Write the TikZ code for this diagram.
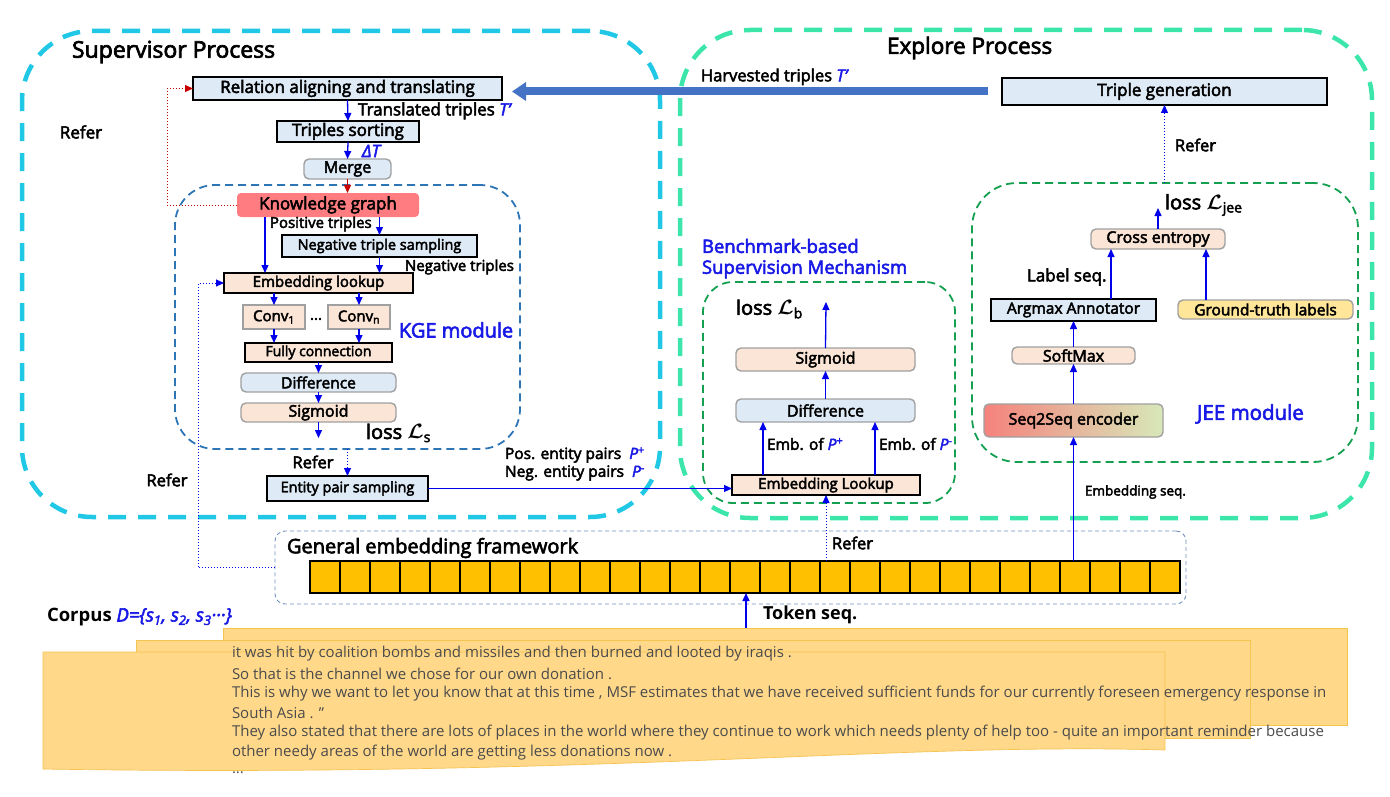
\documentclass[tikz,border=0pt]{standalone}
\usepackage{fontspec}
\setmainfont{Open Sans}
\newfontfamily\med{Open Sans}[FakeBold=3]
\usetikzlibrary{arrows.meta,calc}
\definecolor{cyanc}{RGB}{32,200,230}
\definecolor{aquac}{RGB}{60,230,170}
\definecolor{kgeb}{RGB}{46,117,182}
\definecolor{greenc}{RGB}{20,160,80}
\definecolor{gefc}{RGB}{110,145,190}
\definecolor{lblue}{RGB}{222,235,247}
\definecolor{peach}{RGB}{251,229,214}
\definecolor{yel}{RGB}{255,230,153}
\definecolor{kgred}{RGB}{255,124,128}
\definecolor{bgray}{RGB}{160,160,160}
\definecolor{ablue}{RGB}{0,0,235}
\definecolor{tblue}{RGB}{25,25,230}
\definecolor{bigb}{RGB}{68,114,196}
\definecolor{tokc}{RGB}{255,192,0}
\definecolor{paperc}{RGB}{255,216,138}
\definecolor{paperedge}{RGB}{245,195,80}
\definecolor{redc}{RGB}{200,0,0}
\definecolor{corpusgray}{RGB}{75,75,75}
\newcommand\fsz[1]{\fontsize{#1}{#1}\selectfont}
\newcommand\bl[1]{{\color{tblue}\itshape #1}}
\begin{document}
\begin{tikzpicture}[x=1pt,y=-1pt,
  every node/.style={inner sep=0pt, outer sep=0pt, font=\med},
  sq/.style={draw=black, line width=1.1pt},
  rd/.style={draw=bgray, line width=1.4pt, rounded corners=5pt},
  lbf/.style={fill=lblue},
  pef/.style={fill=peach},
  arr/.style={draw=ablue, line width=1.3pt, -{Triangle[length=8pt,width=7pt]}},
  bdot/.style={draw=ablue, line width=1pt, dotted, -{Triangle[length=8pt,width=7pt]}},
  rdot/.style={draw=redc, line width=1pt, dotted, -{Triangle[length=8pt,width=7pt]}},
  outerbox/.style={line width=4.5pt, dash pattern=on 18pt off 12pt, rounded corners=70pt},
  modbox/.style={line width=1.8pt, dash pattern=on 8pt off 5pt},
  paper/.style={fill=paperc, draw=paperedge, line width=.7pt},
  lbl/.style={anchor=west},
  corp/.style={anchor=west, font=\normalfont\fsz{15}, text=corpusgray},
]
\useasboundingbox (0,0) rectangle (1390,797);

% ---------- containers ----------
\node[outerbox, draw=cyanc, minimum width=638, minimum height=486] (sup) at (341,274) {};
\node[outerbox, draw=aquac, minimum width=692, minimum height=488] (exp) at (1026,274) {};
\node[modbox, draw=kgeb, rounded corners=40pt, minimum width=345, minimum height=264] (kge) at (347.5,317) {};
\node[modbox, draw=greenc, rounded corners=30pt, minimum width=252, minimum height=221] (bench) at (829,392.5) {};
\node[modbox, draw=greenc, rounded corners=45pt, minimum width=386, minimum height=279] (jee) at (1165,322.5) {};
\node[draw=gefc, line width=0.9pt, dash pattern=on 4pt off 3pt, rounded corners=10pt, minimum width=911, minimum height=73] (gef) at (730.5,567.5) {};

% ---------- titles ----------
\node[lbl] (tsup) at (72,52) {\fsz{23}Supervisor Process};
\node[lbl] (texp) at (887,48) {\fsz{22.5}Explore Process};

% ---------- supervisor process ----------
\node[sq,lbf,minimum width=309,minimum height=23] (rel) at (347.5,88.5) {\fsz{17}Relation aligning and translating};
\node[sq,lbf,minimum width=142,minimum height=21] (sort) at (348,131.5) {\fsz{17}Triples sorting};
\node[rd,lbf,minimum width=87,minimum height=20] (merge) at (347.5,169) {\fsz{16}Merge};
\node[fill=kgred,rounded corners=4pt,minimum width=182,minimum height=24] (kg) at (328,205) {\fsz{17}Knowledge graph};
\node[sq,lbf,minimum width=195,minimum height=22] (nts) at (379.5,246) {\fsz{14.5}Negative triple sampling};
\node[sq,pef,minimum width=189,minimum height=20] (el1) at (318.5,283) {\fsz{15}Embedding lookup};
\node[draw=bgray,line width=1.2pt,pef,minimum width=62,minimum height=24] (conv1) at (274,317) {\fsz{15}Conv\textsubscript{1}};
\node[draw=bgray,line width=1.2pt,pef,minimum width=62,minimum height=24] (convn) at (359,317) {\fsz{15}Conv\textsubscript{n}};
\node (dots) at (316,319) {\fsz{15}...};
\node[sq,pef,minimum width=147,minimum height=19] (fc) at (318.5,352.5) {\fsz{14}Fully connection};
\node[rd,lbf,minimum width=155,minimum height=19] (diff1) at (318.5,382.5) {\fsz{15.5}Difference};
\node[rd,pef,minimum width=155,minimum height=19] (sig1) at (318.5,412.5) {\fsz{16}Sigmoid};
\node[sq,lbf,minimum width=161,minimum height=25] (eps) at (347.5,488.5) {\fsz{14.5}Entity pair sampling};

\node[lbl] (ttrans) at (358,111) {\fsz{17}Translated triples \bl{T’}};
\node[lbl] (tdelta) at (362,151) {\fsz{17}\bl{ΔT}};
\node (tref1) at (81,132) {\fsz{17}Refer};
\node[lbl] (tpos) at (270,224) {\fsz{15}Positive triples};
\node[lbl] (tneg) at (405,267) {\fsz{15}Negative triples};
\node[lbl,text=tblue] (tkge) at (399,330) {\fsz{20}KGE module};
\node[lbl] (tls) at (366,433) {\fsz{20}loss {\boldmath$\mathcal{L}$}\textsubscript{s}};
\node (tref2) at (313,462) {\fsz{16.5}Refer};
\node (tref3) at (167,480) {\fsz{16.5}Refer};
\node[lbl] (tpp) at (505,455) {\fsz{15.5}Pos. entity pairs \ \bl{P}\textsuperscript{\color{tblue}+}};
\node[lbl] (tnp) at (505,473) {\fsz{15.5}Neg. entity pairs \ \bl{P}\textsuperscript{\color{tblue}-}};

% ---------- explore process ----------
\node[sq,lbf,minimum width=325,minimum height=27] (tg) at (1164.5,91.5) {\fsz{17}Triple generation};
\node[lbl] (tharv) at (701,77) {\fsz{16.5}Harvested triples \bl{T’}};
\node[lbl] (tref4) at (1175,145) {\fsz{16.5}Refer};

\node[lbl,text=tblue] (tbm1) at (702,246) {\fsz{18.5}Benchmark-based};
\node[lbl,text=tblue] (tbm2) at (702,269) {\fsz{18.5}Supervision Mechanism};
\node[rd,pef,minimum width=179,minimum height=23] (sig2) at (825.5,359.5) {\fsz{16}Sigmoid};
\node[rd,lbf,minimum width=179,minimum height=23] (diff2) at (825.5,410.5) {\fsz{16}Difference};
\node[sq,pef,minimum width=188,minimum height=20] (el2) at (826,485) {\fsz{15}Embedding Lookup};
\node[lbl] (tlb) at (736,309) {\fsz{20}loss {\boldmath$\mathcal{L}$}\textsubscript{b}};
\node[lbl] (tembp) at (767,444) {\fsz{15.5}Emb. of \bl{P}\textsuperscript{\color{tblue}+}};
\node[lbl] (tembn) at (879,444) {\fsz{15.5}Emb. of \bl{P}\textsuperscript{\color{tblue}-}};

\node[rd,pef,minimum width=134,minimum height=20] (ce) at (1158,239) {\fsz{16}Cross entropy};
\node[sq,lbf,minimum width=165,minimum height=22] (argmax) at (1073.5,310) {\fsz{15.5}Argmax Annotator};
\node[rd,fill=yel,minimum width=175,minimum height=19] (gt) at (1265.5,309.5) {\fsz{15.5}Ground-truth labels};
\node[rd,pef,minimum width=123,minimum height=17] (softmax) at (1073.5,355.5) {\fsz{16}SoftMax};
\node[rd,left color={rgb,255:red,245;green,130;blue,125},right color={rgb,255:red,215;green,232;blue,185},minimum width=179,minimum height=33] (s2s) at (1073.5,420.5) {\fsz{16}Seq2Seq encoder};
\node[lbl] (tlj) at (1165,205) {\fsz{20}loss {\boldmath$\mathcal{L}$}\textsubscript{jee}};
\node[lbl] (tlab) at (1027,277) {\fsz{17}Label seq.};
\node[lbl,text=tblue] (tjee) at (1197,414) {\fsz{20.5}JEE module};
\node[lbl] (tembseq) at (1085,492) {\fsz{13.5}Embedding seq.};

% ---------- general embedding framework ----------
\node[lbl] (tgef) at (287,548) {\fsz{20}General embedding framework};
\node[draw=black, line width=1.5pt, fill=tokc, minimum width=870, minimum height=32] (bar) at (745,577) {};
\foreach \i in {1,...,28} \draw[line width=1.5pt] ($(bar.north west)+(30*\i,0)$) -- ($(bar.south west)+(30*\i,0)$);
\node[lbl] (tref5) at (832,543) {\fsz{16.5}Refer};
\node[lbl,font=\normalfont\bfseries] (ttok) at (763,615) {\fsz{18}Token seq.};

% ---------- corpus ----------
\node[lbl,font=\normalfont\bfseries] (tcorpus) at (47,617) {\fsz{18.5}Corpus {\med\mdseries\bl{D=\{s\textsubscript{1}, s\textsubscript{2}, s\textsubscript{3}···\}}}};
\filldraw[paper] (223,628) rectangle (1347,725);
\filldraw[paper] (136,640) rectangle (1250,738);
\filldraw[paper] (43,652) -- (1165,652) -- (1165,750) .. controls (900,742) and (600,778) .. (43,769) -- cycle;
\node[corp] (c1) at (232,654) {it was hit by coalition bombs and missiles and then burned and looted by iraqis .};
\node[corp] (c2) at (232,674) {So that is the channel we chose for our own donation .};
\node[corp] (c3) at (232,694) {This is why we want to let you know that at this time , MSF estimates that we have received sufficient funds for our currently foreseen emergency response in};
\node[corp] (c4) at (232,713) {South Asia . "};
\node[corp] (c5) at (232,733) {They also stated that there are lots of places in the world where they continue to work which needs plenty of help too - quite an important reminder because};
\node[corp] (c6) at (232,753) {other needy areas of the world are getting less donations now .};
\node[corp] (c7) at (232,773) {...};

% ---------- coordinates ----------
\coordinate (ls) at (318.5,438);
\coordinate (lb) at (826,302);
\coordinate (lj) at (1158,208);
\coordinate (tok) at (746,628);
\coordinate (ceA) at ([xshift=-47pt]ce.south);
\coordinate (ceB) at ([xshift=48pt]ce.south);
\coordinate (kgA) at ([xshift=-63pt]kg.south);
\coordinate (elA) at ([xshift=-63pt]el2.north);
\coordinate (elB) at ([xshift=49pt]el2.north);

% ---------- connectors ----------
\draw[line width=8pt, draw=bigb, -{Triangle[length=14pt,width=18pt]}, shorten <=14pt, shorten >=10pt] (tg.west) -- (tg.west -| rel.east);
\draw[arr] (rel.south) -- (sort.north);
\draw[arr] (sort.south) -- (merge.north);
\draw[draw=redc, line width=1.3pt, -{Triangle[length=8pt,width=7pt]}] (merge.south) -- (merge.south |- kg.north);
\draw[rdot] (kg.west) -- ++(-70,0) |- (rel.west);
\draw[arr] (kgA) -- (kgA |- el1.north);
\draw[arr] (kg.south -| nts.north) -- (nts.north);
\draw[arr] (nts.south) -- (nts.south |- el1.north);
\draw[arr] (el1.south -| conv1) -- (conv1.north);
\draw[arr] (el1.south -| convn) -- (convn.north);
\draw[arr] (conv1.south) -- (conv1.south |- fc.north);
\draw[arr] (convn.south) -- (convn.south |- fc.north);
\draw[arr] (fc.south) -- (diff1.north);
\draw[arr] (diff1.south) -- (sig1.north);
\draw[arr] (sig1.south) -- (ls);
\draw[bdot] (kge.south -| eps.north) -- (eps.north);
\draw[bdot] (gef.west) -| ($(el1.west)+(-26,0)$) -- (el1.west);
\draw[draw=ablue, line width=1.3pt, -{Triangle[length=8pt,width=7pt]}] (eps.east) -- (eps.east -| el2.west);
\draw[arr] (elA) -- (elA |- diff2.south);
\draw[arr] (elB) -- (elB |- diff2.south);
\draw[arr] (diff2.north) -- (sig2.south);
\draw[arr] (sig2.north) -- (lb);
\draw[bdot] (el2.south |- bar.north) -- (el2.south);
\draw[arr] (s2s.south |- bar.north) -- (s2s.south);
\draw[arr] (s2s.north) -- (softmax.south);
\draw[arr] (softmax.north) -- (argmax.south);
\draw[arr] (ceA |- argmax.north) -- (ceA);
\draw[arr] (ceB |- gt.north) -- (ceB);
\draw[arr] (ce.north) -- (lj);
\draw[bdot] (tg.south |- jee.north) -- (tg.south);
\draw[arr] (tok) -- (tok |- bar.south);
\end{tikzpicture}
\end{document}
